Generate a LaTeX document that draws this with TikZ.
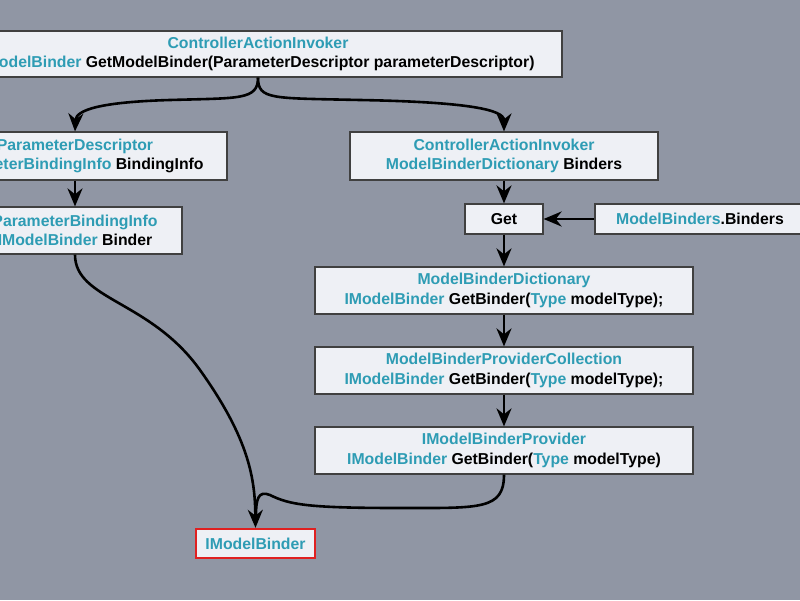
\documentclass[tikz,border=0pt]{standalone}
\usepackage{fontspec}
\setmainfont{Liberation Sans}
\usetikzlibrary{arrows.meta,positioning}
\definecolor{bgray}{HTML}{9096A4}
\definecolor{boxfill}{HTML}{EEF0F5}
\definecolor{teal}{HTML}{2E9CB4}
\definecolor{redline}{HTML}{E02020}
\tikzset{
  box/.style={draw=black!75, line width=1.2pt, fill=boxfill, align=center,
    inner sep=0pt, font=\fontsize{15.8}{19.5}\selectfont\bfseries},
  link/.style={line width=2.6pt, -{Stealth[length=18pt,width=15pt]}},
}
\newcommand{\tl}[1]{\textcolor{teal}{#1}}
\begin{document}
\begin{tikzpicture}[x=1pt,y=-1pt]

  \fill[bgray] (0,0) rectangle (800,600);
  \clip (0,0) rectangle (800,600);

	%left column
 \node[box, minimum width=608pt, minimum height=46pt] (invoke) at (258,54)
   {\tl{ControllerActionInvoker}\\ \tl{IModelBinder} GetModelBinder(ParameterDescriptor parameterDescriptor)};
 \node[box, minimum width=304pt, minimum height=48pt] (pdesc) at (75,156)
   {\tl{ParameterDescriptor}\\ \tl{ParameterBindingInfo} BindingInfo};
 \node[box, minimum width=214pt, minimum height=47pt] (pinfo) at (75,230.5)
   {\tl{ParameterBindingInfo}\\ \tl{IModelBinder} Binder};
 \node[box, draw=redline, line width=2.4pt, minimum width=119pt, minimum height=29pt] (result) at (255.5,543.5)
   {\tl{IModelBinder}};

	%right column
 \node[box, minimum width=308pt, minimum height=48pt] (binders) at (504,156)
   {\tl{ControllerActionInvoker}\\ \tl{ModelBinderDictionary} Binders};
 \node[box, minimum width=78pt, minimum height=30pt] (get) at (504,219) {Get};
 \node[box, minimum width=210pt, minimum height=30pt] (global) at (700,219)
   {\tl{ModelBinders}.Binders};

 \foreach \y/\name/\cls/\semi in {290.5/dict/ModelBinderDictionary/;,
                                   370.5/coll/ModelBinderProviderCollection/;,
                                   450.5/prov/IModelBinderProvider/}{
   \node[box, minimum width=378pt, minimum height=47pt] (\name) at (504,\y)
     {\tl{\cls}\\ \tl{IModelBinder} GetBinder(\tl{Type} modelType)\semi};
 }

	%connectors
 \draw[link] (invoke.south) .. controls (258,100) and (240,98) .. (170,100)
   .. controls (100,102) and (76,110) .. (pdesc.north);
 \draw[link] (invoke.south) .. controls (258,100) and (272,98) .. (360,100)
   .. controls (470,102) and (504,110) .. (binders.north);
 \draw[link] (pdesc) -- (pinfo);
 \draw[link] (binders) -- (get);
 \draw[link] (global) -- (get);
 \draw[link] (get) -- (dict);
 \draw[link] (dict) -- (coll);
 \draw[link] (coll) -- (prov);
 \draw[link] (pinfo.south) .. controls (75,300) and (150,300) .. (200,370)
   .. controls (250,440) and (255,480) .. (result.north);
 \draw[line width=2.6pt] (prov.south) .. controls (504,510) and (480,508) .. (400,508)
   .. controls (310,508) and (290,505) .. (270,495) .. controls (258,490) and (256,500) .. (256,515);

\end{tikzpicture}
\end{document}
